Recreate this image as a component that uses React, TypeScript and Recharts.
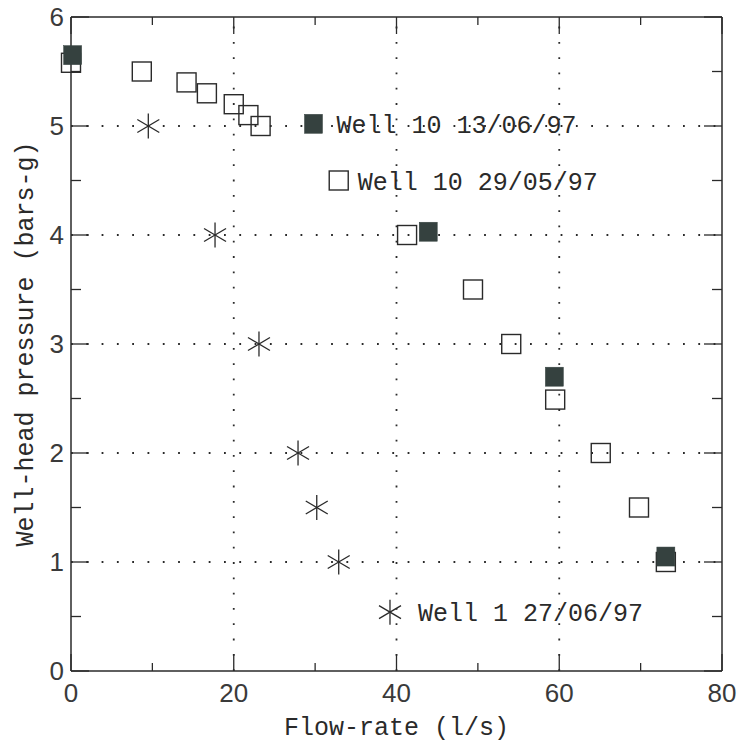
import React from 'react';
import { ScatterChart, Scatter, XAxis, YAxis, ReferenceLine, Label } from 'recharts';

const xTicks = [0, 10, 20, 30, 40, 50, 60, 70, 80];
const yTicks = [0, 0.5, 1, 1.5, 2, 2.5, 3, 3.5, 4, 4.5, 5, 5.5, 6];
const gridX = [20, 40, 60];
const gridY = [1, 2, 3, 4, 5];

const well10May = [
  { flow: 0, pressure: 5.58 },
  { flow: 8.7, pressure: 5.5 },
  { flow: 14.2, pressure: 5.4 },
  { flow: 16.7, pressure: 5.3 },
  { flow: 20.0, pressure: 5.2 },
  { flow: 21.8, pressure: 5.1 },
  { flow: 23.3, pressure: 5.0 },
  { flow: 41.3, pressure: 4.0 },
  { flow: 49.4, pressure: 3.5 },
  { flow: 54.1, pressure: 3.0 },
  { flow: 59.5, pressure: 2.49 },
  { flow: 65.1, pressure: 2.0 },
  { flow: 69.8, pressure: 1.5 },
  { flow: 73.1, pressure: 1.0 },
];
const well10June = [
  { flow: 0.2, pressure: 5.65 },
  { flow: 43.9, pressure: 4.03 },
  { flow: 59.4, pressure: 2.7 },
  { flow: 73.1, pressure: 1.05 },
];
const well1June = [
  { flow: 9.5, pressure: 5.0 },
  { flow: 17.7, pressure: 4.0 },
  { flow: 23.1, pressure: 3.0 },
  { flow: 27.9, pressure: 2.0 },
  { flow: 30.2, pressure: 1.5 },
  { flow: 32.9, pressure: 1.0 },
];
const legendJune10 = [{ flow: 29.8, pressure: 5.02, label: 'Well 10 13/06/97' }];
const legendMay10 = [{ flow: 32.9, pressure: 4.5, label: 'Well 10 29/05/97' }];
const legendJune1 = [{ flow: 39.2, pressure: 0.54, label: 'Well 1 27/06/97' }];

const PLOT_LEFT = 71;
const PLOT_RIGHT = 722;
const PLOT_TOP = 17;
const PLOT_BOTTOM = 671;
const INK = '#2a2a2a';
const FILL = '#35413f';
const MONO = '"Liberation Mono", "DejaVu Sans Mono", monospace';
const SANS = '"Liberation Sans", Arial, sans-serif';

const OpenSquare = (p: any) => (
  <rect x={p.cx - 9.5} y={p.cy - 9.5} width={19} height={19} fill="none" stroke={INK} strokeWidth={1.4} />
);
const FilledSquare = (p: any) => (
  <rect x={p.cx - 9} y={p.cy - 9.5} width={18} height={19} fill={FILL} stroke={FILL} strokeWidth={0.5} />
);
const Star = (p: any) => {
  const r = 12.5;
  const dx = 11;
  const dy = 6.5;
  return (
    <g stroke={INK} strokeWidth={1.3}>
      <line x1={p.cx} y1={p.cy - r} x2={p.cx} y2={p.cy + r} />
      <line x1={p.cx - dx} y1={p.cy - dy} x2={p.cx + dx} y2={p.cy + dy} />
      <line x1={p.cx - dx} y1={p.cy + dy} x2={p.cx + dx} y2={p.cy - dy} />
    </g>
  );
};

const legendText = (p: any, dx: number) => (
  <text x={p.cx + dx} y={p.cy + 9} fontFamily={MONO} fontSize={25} fill={INK}>
    {p.payload.label}
  </text>
);

const YTick = (p: any) => {
  const v = p.payload.value;
  const y = p.y;
  const major = Number.isInteger(v);
  const len = major ? 18 : 10;
  return (
    <g>
      <line x1={PLOT_LEFT} x2={PLOT_LEFT + len} y1={y} y2={y} stroke={INK} strokeWidth={1.3} />
      <line x1={PLOT_RIGHT - len} x2={PLOT_RIGHT} y1={y} y2={y} stroke={INK} strokeWidth={1.3} />
      {major && (
        <text x={PLOT_LEFT - 7} y={y + 9} textAnchor="end" fontFamily={SANS} fontSize={26} fill="#3a3a3a">
          {v}
        </text>
      )}
    </g>
  );
};

const XTick = (p: any) => {
  const v = p.payload.value;
  const x = p.x;
  const major = v % 20 === 0;
  const len = major ? 17 : 8;
  return (
    <g>
      <line x1={x} x2={x} y1={PLOT_BOTTOM} y2={PLOT_BOTTOM - len} stroke={INK} strokeWidth={1.3} />
      <line x1={x} x2={x} y1={PLOT_TOP} y2={PLOT_TOP + len} stroke={INK} strokeWidth={1.3} />
      {major && (
        <text x={x} y={PLOT_BOTTOM + 31} textAnchor="middle" fontFamily={SANS} fontSize={26} fill="#3a3a3a">
          {v}
        </text>
      )}
    </g>
  );
};

const YTitle = (p: any) => {
  const vb = p.viewBox;
  const cx = vb.x + 33;
  const cy = vb.y + vb.height / 2;
  return (
    <text x={cx} y={cy} transform={`rotate(-90 ${cx} ${cy})`} textAnchor="middle" fontFamily={MONO} fontSize={25} fill={INK}>
      Well-head pressure (bars-g)
    </text>
  );
};
const XTitle = (p: any) => {
  const vb = p.viewBox;
  return (
    <text x={vb.x + vb.width / 2} y={vb.y + 64} textAnchor="middle" fontFamily={MONO} fontSize={25} fill={INK}>
      Flow-rate (l/s)
    </text>
  );
};

export default function App() {
  return (
    <div style={{ position: 'absolute', left: 0, top: 0, width: 740, height: 742, background: '#fff' }}>
      <ScatterChart width={740} height={742} margin={{ top: 17, right: 18, bottom: 0, left: 0 }}>
        <XAxis
          type="number"
          dataKey="flow"
          domain={[0, 80]}
          ticks={xTicks}
          interval={0}
          height={71}
          tickLine={false}
          axisLine={{ stroke: INK, strokeWidth: 1.5 }}
          tick={<XTick />}
        >
          <Label content={<XTitle />} />
        </XAxis>
        <YAxis
          type="number"
          dataKey="pressure"
          domain={[0, 6]}
          ticks={yTicks}
          interval={0}
          width={71}
          tickLine={false}
          axisLine={{ stroke: INK, strokeWidth: 1.5 }}
          tick={<YTick />}
        >
          <Label content={<YTitle />} />
        </YAxis>
        {gridX.map((v) => (
          <ReferenceLine key={'gx' + v} x={v} stroke={INK} strokeWidth={1.8} strokeDasharray="1.8 13.5" />
        ))}
        {gridY.map((v) => (
          <ReferenceLine key={'gy' + v} y={v} stroke={INK} strokeWidth={1.8} strokeDasharray="1.8 13.5" />
        ))}
        <ReferenceLine x={80} stroke={INK} strokeWidth={1.5} />
        <ReferenceLine y={6} stroke={INK} strokeWidth={1.5} />
        <Scatter data={well10May} shape={<OpenSquare />} isAnimationActive={false} />
        <Scatter data={well10June} shape={<FilledSquare />} isAnimationActive={false} />
        <Scatter data={well1June} shape={<Star />} isAnimationActive={false} />
        <Scatter
          data={legendJune10}
          isAnimationActive={false}
          shape={(p: any) => (
            <g>
              <FilledSquare {...p} />
              {legendText(p, 23)}
            </g>
          )}
        />
        <Scatter
          data={legendMay10}
          isAnimationActive={false}
          shape={(p: any) => (
            <g>
              <OpenSquare {...p} />
              {legendText(p, 19)}
            </g>
          )}
        />
        <Scatter
          data={legendJune1}
          isAnimationActive={false}
          shape={(p: any) => (
            <g>
              <Star {...p} />
              {legendText(p, 28)}
            </g>
          )}
        />
      </ScatterChart>
    </div>
  );
}
